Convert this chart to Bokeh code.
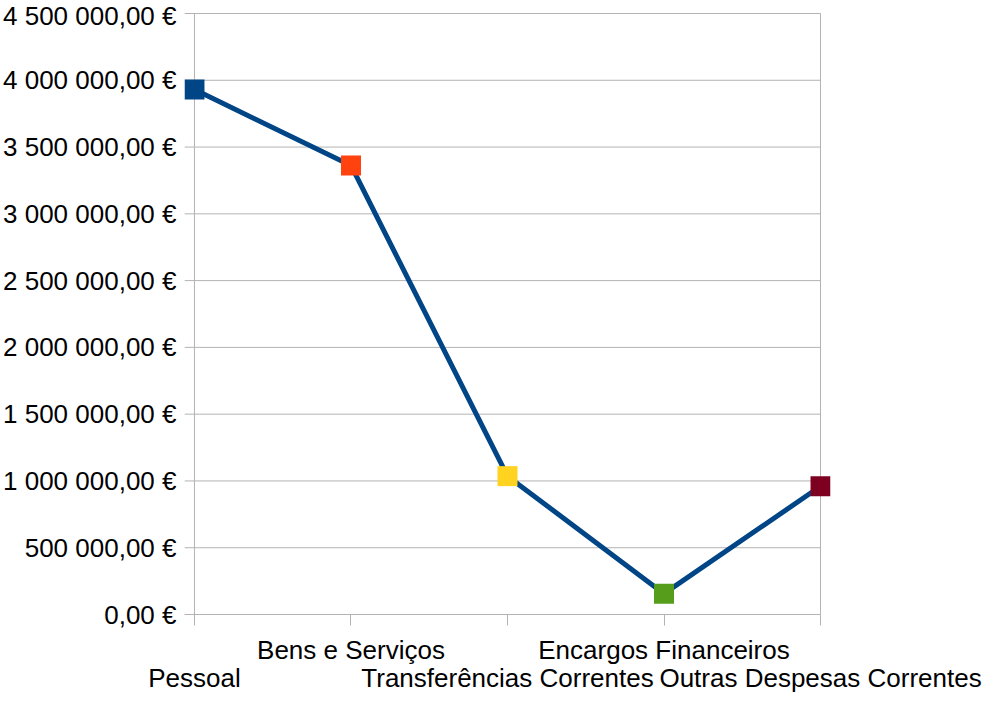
from bokeh.plotting import figure
from bokeh.models import LinearAxis, FixedTicker, Range1d, ColumnDataSource
from bokeh.embed import file_html
from bokeh.resources import INLINE

# ---- data ----
categories = ["Pessoal", "Bens e Serviços", "Transferências Correntes",
              "Encargos Financeiros", "Outras Despesas Correntes"]
values = [3930000, 3362000, 1036000, 156000, 960000]
marker_colors = ["#004586", "#ff420e", "#ffd320", "#579d1c", "#7e0021"]
y_ticks = [0, 500000, 1000000, 1500000, 2000000, 2500000, 3000000,
           3500000, 4000000, 4500000]


def euro(v):
    s = f"{v:,.2f}"
    s = s.replace(",", " ").replace(".", ",")
    return s + " €"


FONT = "Liberation Sans"
FS = "26px"
GRID = "#b3b3b3"

# ---- layout constants (screen pixels) ----
W, H = 982, 695
X0_PX, X4_PX = 192, 820      # screen x of first / last category
TOP_PX, BOT_PX = 13, 616     # screen y of top tick / zero line
PAD_PX = 10                  # room kept inside the frame for markers / tick stubs

n = len(categories)
xs = list(range(n))
ppu = (X4_PX - X0_PX) / (n - 1)
d = PAD_PX / ppu
y_top = y_ticks[-1]
y_ppu = (BOT_PX - TOP_PX) / y_top
y_end = y_top + 1 / y_ppu

src = ColumnDataSource(dict(x=xs, y=values, c=marker_colors))

p = figure(width=W, height=H, output_backend="svg", toolbar_location=None,
           x_range=Range1d(-d, xs[-1] + d), y_range=Range1d(0, y_end),
           min_border_left=X0_PX - PAD_PX, min_border_right=W - (X4_PX + PAD_PX),
           min_border_top=TOP_PX - 1, min_border_bottom=10)
p.background_fill_color = "white"
p.border_fill_color = "white"
p.outline_line_color = None
p.xgrid.visible = False
p.ygrid.visible = False

# horizontal grid lines with a stub left of the axis (drawn from the ticks)
grid_y = y_ticks[1:]
p.segment(x0=[-d] * len(grid_y), x1=[xs[-1]] * len(grid_y), y0=grid_y, y1=grid_y,
          line_color=GRID, line_width=1, level="underlay")
# left axis line and right border
p.segment(x0=[xs[0], xs[-1]], x1=[xs[0], xs[-1]], y0=[0, 0], y1=[y_top, y_top],
          line_color=GRID, line_width=1, level="underlay")

# y axis (labels only)
ya = p.yaxis[0]
ya.ticker = FixedTicker(ticks=y_ticks)
ya.major_label_overrides = {t: euro(t) for t in y_ticks}
ya.major_label_text_font = FONT
ya.major_label_text_font_size = FS
ya.major_label_text_color = "black"
ya.axis_line_color = None
ya.major_tick_line_color = None
ya.major_tick_out = 0
ya.major_tick_in = 0
ya.minor_tick_line_color = None
ya.minor_tick_out = 0
ya.major_label_standoff = 8

# x axis, first row (odd categories)
xa = p.xaxis[0]
xa.ticker = FixedTicker(ticks=xs)
xa.bounds = (-d, xs[-1])
xa.major_label_overrides = {i: (c if i % 2 == 1 else "") for i, c in enumerate(categories)}
xa.major_label_text_font = FONT
xa.major_label_text_font_size = FS
xa.major_label_text_color = "black"
xa.axis_line_color = GRID
xa.major_tick_line_color = GRID
xa.major_tick_out = 11
xa.major_tick_in = 0
xa.minor_tick_line_color = None
xa.major_label_standoff = 9

# x axis, second row (even categories)
even = [i for i in xs if i % 2 == 0]
xb = LinearAxis(ticker=FixedTicker(ticks=even),
                major_label_overrides={i: categories[i] for i in even})
xb.major_label_text_font = FONT
xb.major_label_text_font_size = FS
xb.major_label_text_color = "black"
xb.axis_line_color = None
xb.major_tick_line_color = None
xb.major_tick_out = 0
xb.major_tick_in = 0
xb.minor_tick_line_color = None
xb.major_label_standoff = -5
p.add_layout(xb, "below")

p.line("x", "y", source=src, line_color="#004586", line_width=5)
p.scatter("x", "y", source=src, marker="square", size=20, fill_color="c", line_color=None)

open("out.html", "w").write(file_html(p, INLINE))
